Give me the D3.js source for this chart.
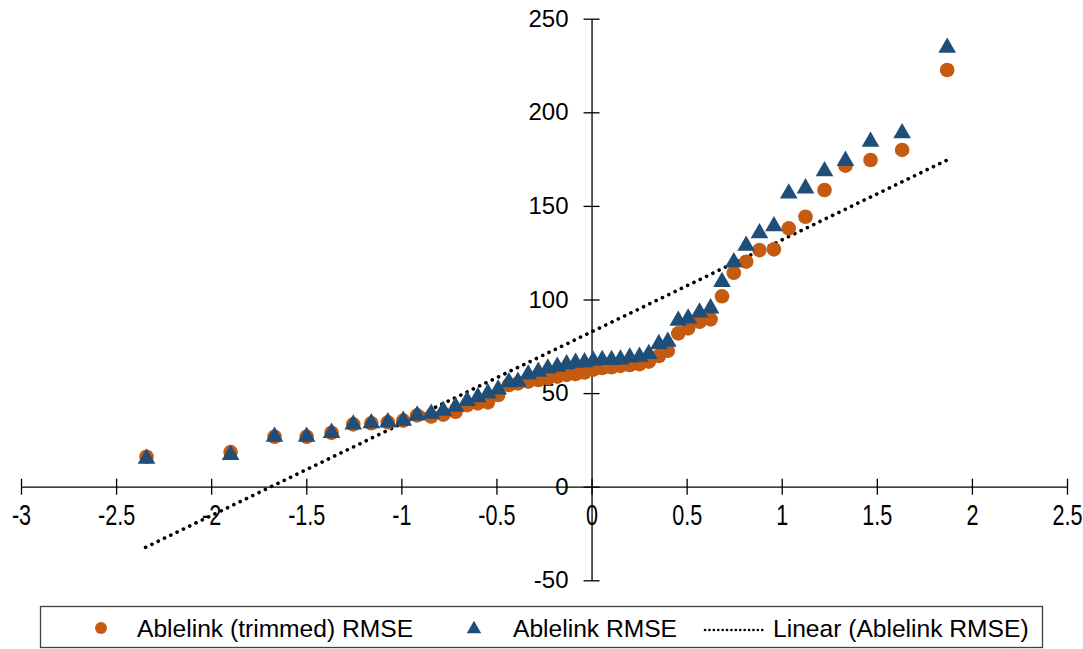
<!DOCTYPE html>
<html>
<head>
<meta charset="utf-8">
<script src="https://cdn.jsdelivr.net/npm/d3@7"></script>
<style>
  body { margin: 0; background: #fff; }
  text { font-family: "Liberation Sans", Arial, sans-serif; fill: #000; }
</style>
</head>
<body>
<svg id="chart"></svg>
<script>
// x positions (normal scores)
var xValues = [-2.34, -1.898, -1.667, -1.498, -1.367, -1.253, -1.158, -1.071, -0.99, -0.917,
  -0.843, -0.78, -0.715, -0.654, -0.598, -0.545, -0.491, -0.435, -0.387, -0.333,
  -0.28, -0.23, -0.18, -0.131, -0.084, -0.037, 0.009, 0.056, 0.105, 0.152,
  0.201, 0.252, 0.301, 0.354, 0.401, 0.456, 0.508, 0.568, 0.626, 0.686,
  0.748, 0.813, 0.883, 0.959, 1.037, 1.125, 1.225, 1.335, 1.467, 1.633, 1.87];

// Ablelink (trimmed) RMSE
var trimmedRmse = [16.0, 18.5, 26.7, 26.7, 28.8, 33.3, 33.9, 34.4, 35.3, 38.1,
  37.5, 38.5, 40.0, 43.6, 44.5, 45.0, 49.0, 54.3, 55.2, 56.1,
  57.0, 57.9, 58.8, 59.7, 60.2, 61.0, 62.5, 63.4, 63.8, 64.5,
  65.0, 65.5, 66.8, 69.8, 72.6, 81.9, 84.6, 88.1, 89.4, 101.7,
  114.3, 120.2, 126.4, 126.8, 138.0, 144.2, 158.5, 171.5, 174.5, 179.9, 222.6];

// Ablelink RMSE
var rmse = [15.0, 17.0, 26.7, 26.7, 28.8, 33.3, 33.9, 34.4, 35.3, 38.1,
  39.0, 40.6, 42.7, 45.8, 47.8, 49.9, 52.0, 55.8, 56.1, 60.0,
  61.4, 63.2, 64.1, 65.5, 66.2, 66.5, 67.3, 67.7, 67.7, 68.0,
  69.1, 69.5, 70.9, 76.2, 77.5, 88.7, 89.9, 93.1, 95.3, 109.4,
  119.9, 128.7, 135.4, 139.2, 156.7, 159.4, 168.5, 174.1, 184.3, 188.8, 234.5];

// Linear (Ablelink RMSE) trend line end points
var trendX = [-2.345, 1.87];
var trendY = [-32.4, 174.5];

var xTicks = [-3, -2.5, -2, -1.5, -1, -0.5, 0, 0.5, 1, 1.5, 2, 2.5];
var yTicks = [-50, 0, 50, 100, 150, 200, 250];
var legendLabels = ["Ablelink (trimmed) RMSE", "Ablelink RMSE", "Linear (Ablelink RMSE)"];

var orange = "#C55A11", blue = "#1F4E79";
var width = 1083, height = 649;

var svg = d3.select("#chart").attr("width", width).attr("height", height);

var x = d3.scaleLinear().domain([-3, 2.5]).range([21, 1067]);
var y = d3.scaleLinear().domain([-50, 250]).range([580.3, 18.7]);

// x axis at y = 0, ticks crossing the line
var xAxis = svg.append("g")
  .attr("transform", "translate(0," + y(0) + ")")
  .call(d3.axisBottom(x).tickValues(xTicks).tickSize(8).tickSizeOuter(0)
    .tickFormat(function (d) { return String(d); }));
xAxis.select(".domain").attr("stroke", "#000").attr("stroke-width", 1.3);
xAxis.selectAll(".tick line").attr("y1", -8).attr("y2", 8).attr("stroke-width", 1.3);
// labels in the reference look a bit condensed and tall
xAxis.selectAll(".tick text").attr("y", 15).attr("dy", "0.71em")
  .attr("transform", "scale(0.9,1.2)")
  .style("font-size", "24px");

// y axis at x = 0
var yAxis = svg.append("g")
  .attr("transform", "translate(" + x(0) + ",0)")
  .call(d3.axisLeft(y).tickValues(yTicks).tickSize(8).tickSizeOuter(0)
    .tickFormat(function (d) { return String(d); }));
yAxis.select(".domain").attr("stroke", "#000").attr("stroke-width", 1.3);
yAxis.selectAll(".tick line").attr("x1", -8).attr("x2", 8).attr("stroke-width", 1.3);
yAxis.selectAll(".tick text").attr("x", -23).style("font-size", "24px");

// trend line
svg.append("line")
  .attr("x1", x(trendX[0])).attr("y1", y(trendY[0]))
  .attr("x2", x(trendX[1])).attr("y2", y(trendY[1]))
  .attr("stroke", "#000").attr("stroke-width", 3.6)
  .attr("stroke-linecap", "round").attr("stroke-dasharray", "0.1 6.9");

var pts = xValues.map(function (d, i) { return { x: d, c: trimmedRmse[i], t: rmse[i] }; });

svg.append("g").selectAll("circle").data(pts).enter().append("circle")
  .attr("cx", function (d) { return x(d.x); })
  .attr("cy", function (d) { return y(d.c); })
  .attr("r", 7.3)
  .attr("fill", orange);

var tri = d3.symbol().type(d3.symbolTriangle).size(135);
svg.append("g").selectAll("path").data(pts).enter().append("path")
  .attr("d", tri)
  .attr("transform", function (d) { return "translate(" + x(d.x) + "," + y(d.t) + ")"; })
  .attr("fill", blue);

// legend
var lg = svg.append("g");
lg.append("rect").attr("x", 40.5).attr("y", 606.5).attr("width", 1002).attr("height", 41)
  .attr("fill", "#fff").attr("stroke", "#404040").attr("stroke-width", 1.3);
lg.append("circle").attr("cx", 101).attr("cy", 628).attr("r", 6).attr("fill", orange);
lg.append("path").attr("d", d3.symbol().type(d3.symbolTriangle).size(90))
  .attr("transform", "translate(474,629)").attr("fill", blue);
lg.append("line").attr("x1", 705).attr("y1", 630).attr("x2", 766).attr("y2", 630)
  .attr("stroke", "#000").attr("stroke-width", 2.6)
  .attr("stroke-linecap", "round").attr("stroke-dasharray", "0.1 4.3");
var lx = [137, 513, 773];
lg.selectAll("text.lab").data(legendLabels).enter().append("text")
  .attr("class", "lab")
  .attr("x", function (d, i) { return lx[i]; })
  .attr("y", 637)
  .style("font-size", "24.6px")
  .text(function (d) { return d; });
</script>
</body>
</html>
